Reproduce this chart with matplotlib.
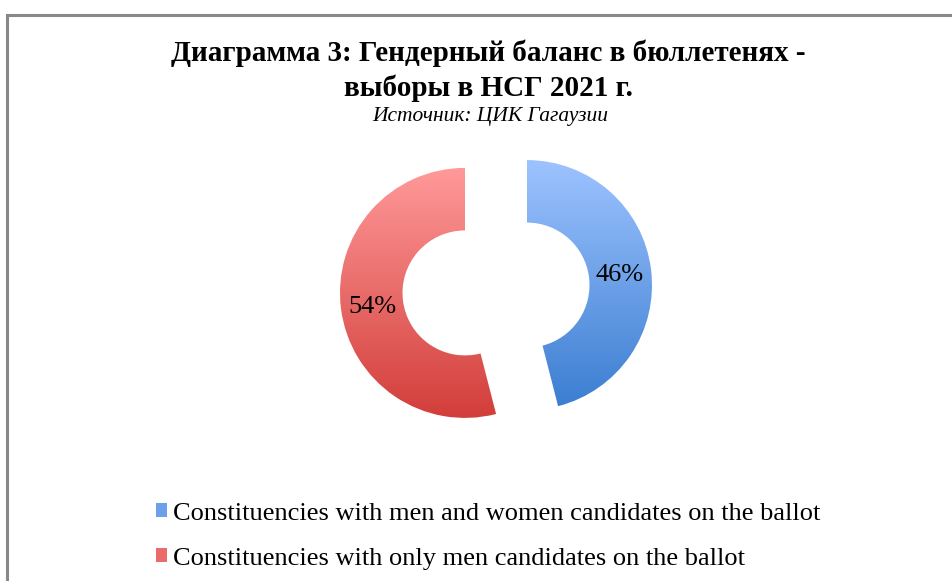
import matplotlib.pyplot as plt
import numpy as np
from matplotlib.colors import LinearSegmentedColormap, to_rgb
from matplotlib.patches import Patch

plt.rcParams['font.family'] = ['Liberation Serif', 'DejaVu Serif']

labels = ['Constituencies with men and women candidates on the ballot',
          'Constituencies with only men candidates on the ballot']
shares = [46, 54]
pct_text = ['46%', '54%']
top_colors = ['#9dc3ff', '#ff9999']
bottom_colors = ['#3a7dd0', '#d23e3a']

W, H = 953, 581
fig = plt.figure(figsize=(W / 100, H / 100), dpi=100)
ax = fig.add_axes([0, 0, 1, 1])

# frame (cut off at right/bottom like the screenshot)
ax.plot([7.5, 7.5, W + 5], [-5, H - 14.5, H - 14.5], color='#888888', lw=2.2,
        solid_joinstyle='miter')

cx, cy, R = 496, H - 289, 125
expl = 0.25 * R
wedges, _ = ax.pie(shares, startangle=90, counterclock=False, radius=R,
                   center=(cx, cy), explode=[expl, expl],
                   wedgeprops=dict(width=R * 0.5, linewidth=0, alpha=0),
                   frame=True)

grad = np.linspace(0, 1, 256).reshape(-1, 1)
for i, w in enumerate(wedges):
    cmap = LinearSegmentedColormap.from_list('g%d' % i, [bottom_colors[i], top_colors[i]])
    ang = np.deg2rad((w.theta1 + w.theta2) / 2)
    ox = cx + expl * np.cos(ang)
    oy = cy + expl * np.sin(ang)
    im = ax.imshow(grad, cmap=cmap, origin='lower', aspect='auto',
                   extent=[ox - R, ox + R, oy - R, oy + R], zorder=2)
    im.set_clip_path(w)
    lx = ox + 0.75 * R * np.cos(ang)
    ly = oy + 0.75 * R * np.sin(ang) - 2
    ax.text(lx, ly, pct_text[i], ha='center', va='center', fontsize=19, zorder=3)

ax.set_xlim(0, W)
ax.set_ylim(0, H)
ax.set_aspect('equal')
ax.axis('off')

fig.text(488 / W, 1 - 53 / H, 'Диаграмма 3: Гендерный баланс в бюллетенях -',
         ha='center', va='center', fontsize=21, fontweight='bold')
fig.text(488 / W, 1 - 88 / H, 'выборы в НСГ 2021 г.',
         ha='center', va='center', fontsize=21, fontweight='bold')
fig.text(490 / W, 1 - 116 / H, 'Источник: ЦИК Гагаузии',
         ha='center', va='center', fontsize=15.5, style='italic')

handles = [Patch(facecolor=(np.array(to_rgb(t)) + np.array(to_rgb(b))) / 2)
           for t, b in zip(top_colors, bottom_colors)]
ax.legend(handles, labels, loc='upper left', bbox_to_anchor=(145 / W, 1 - 492 / H),
          frameon=False, fontsize=19, handlelength=0.45, handleheight=0.45,
          handletextpad=0.2, labelspacing=0.88, borderaxespad=0)

fig.savefig('out.png', dpi=100)
